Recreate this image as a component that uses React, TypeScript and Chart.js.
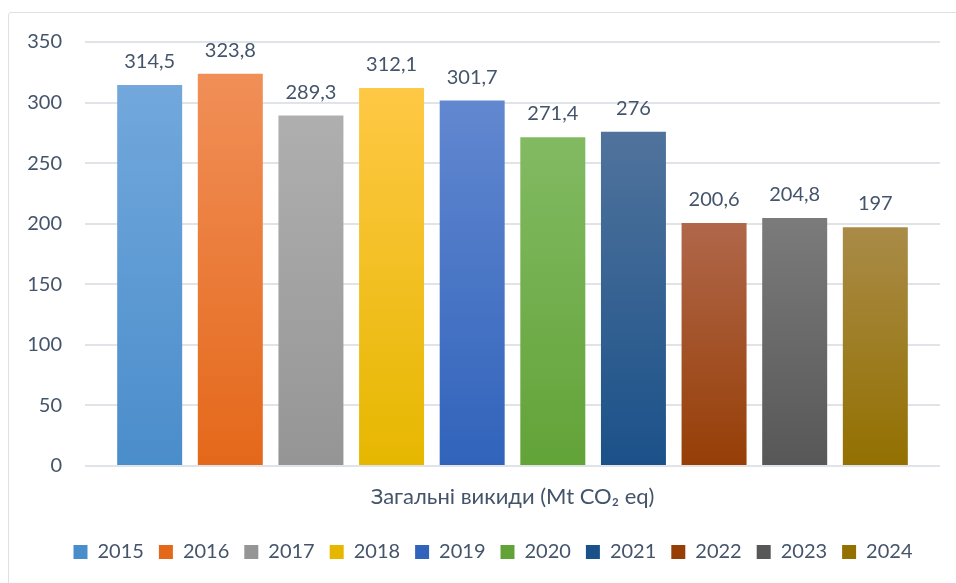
import React, { useEffect, useRef } from "react";
import { Chart, registerables } from "chart.js";

Chart.register(...registerables);

const categories = ["Загальні викиди (Mt CO₂ eq)"];
const years = ["2015", "2016", "2017", "2018", "2019", "2020", "2021", "2022", "2023", "2024"];
const values = [314.5, 323.8, 289.3, 312.1, 301.7, 271.4, 276, 200.6, 204.8, 197];
const topColors = ["#72a8dc", "#f18f58", "#afafaf", "#ffc845", "#6288d0", "#82ba62", "#50739c", "#b0674a", "#7b7b7b", "#a98b48"];
const bottomColors = ["#4a8dcb", "#e4681a", "#959595", "#e6b700", "#3163bb", "#62a338", "#1b5189", "#963e06", "#575757", "#937000"];
const midColors = ["#5b9bd5", "#ed7d31", "#a5a5a5", "#ffc000", "#4472c4", "#70ad47", "#255e91", "#9e480e", "#636363", "#997300"];
const yTicks = { min: 0, max: 350, step: 50 };

const TEXT = "#44546a";
const FONT = "Lato, 'Open Sans', sans-serif";

const labelPlugin = {
  id: "valueLabels",
  afterLayout(chart: any) {
    const lg = chart.legend;
    if (lg) {
      lg.left += 19;
      lg.right += 19;
    }
  },
  afterDatasetsDraw(chart: any) {
    const ctx = chart.ctx;
    ctx.save();
    ctx.font = `20px ${FONT}`;
    ctx.fillStyle = TEXT;
    ctx.textAlign = "center";
    ctx.textBaseline = "alphabetic";
    chart.data.datasets.forEach((ds: any, i: number) => {
      const meta = chart.getDatasetMeta(i);
      meta.data.forEach((el: any, j: number) => {
        const v = ds.data[j];
        ctx.fillText(String(v).replace(".", ","), el.x, el.y - 17);
      });
    });
    ctx.restore();
  },
};

export default function App() {
  const ref = useRef<HTMLCanvasElement>(null);
  useEffect(() => {
    if (!ref.current) return;
    const chart = new Chart(ref.current, {
      type: "bar",
      data: {
        labels: categories,
        datasets: years.map((y, i) => ({
          label: y,
          data: [values[i]],
          backgroundColor: (c: any) => {
            if (c.type !== "data") return midColors[i];
            const ys = c.chart.scales.y;
            if (!ys) return midColors[i];
            const t = ys.getPixelForValue(c.raw);
            const b = ys.getPixelForValue(0);
            if (!isFinite(t) || !isFinite(b) || t === b) return midColors[i];
            const g = c.chart.ctx.createLinearGradient(0, t, 0, b);
            g.addColorStop(0, topColors[i]);
            g.addColorStop(1, bottomColors[i]);
            return g;
          },
          borderWidth: 0,
          categoryPercentage: 0.943,
          barPercentage: 0.806,
        })),
      },
      options: {
        responsive: false,
        animation: false,
        devicePixelRatio: 1,
        layout: { padding: { left: 0, right: 8, top: 30, bottom: 11 } },
        plugins: {
          tooltip: { enabled: false },
          legend: {
            position: "bottom",
            labels: {
              boxWidth: 14,
              boxHeight: 14,
              padding: 15,
              color: TEXT,
              font: { size: 20, family: FONT },
            },
          },
        },
        scales: {
          x: {
            grid: { display: false },
            border: { display: false },
            ticks: { color: TEXT, font: { size: 22, family: FONT }, padding: 10 },
            afterFit: (s: any) => {
              s.height = 61;
            },
          },
          y: {
            min: yTicks.min,
            max: yTicks.max,
            ticks: { stepSize: yTicks.step, color: TEXT, font: { size: 20, family: FONT }, padding: 0 },
            grid: { color: "#e0e4e9", lineWidth: 2, drawTicks: true, tickLength: 23, tickColor: "rgba(0,0,0,0)" },
            border: { display: false },
            afterFit: (s: any) => {
              s.width = 77;
            },
          },
        },
      },
      plugins: [labelPlugin],
    });
    return () => chart.destroy();
  }, []);

  return (
    <div style={{ position: "absolute", left: 0, top: 0, width: 956, height: 583, overflow: "hidden", background: "#fff" }}>
      <div
        style={{
          position: "absolute",
          left: 8,
          top: 12,
          width: 980,
          height: 600,
          border: "1.5px solid #dde1e6",
          borderRadius: 3,
        }}
      />
      <canvas ref={ref} width={940} height={571} style={{ position: "absolute", left: 8, top: 12, width: 940, height: 571 }} />
    </div>
  );
}
